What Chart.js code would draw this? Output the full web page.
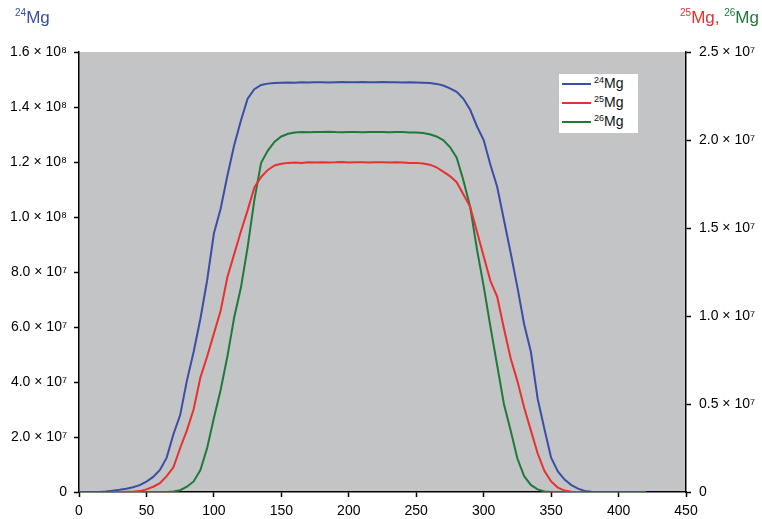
<!DOCTYPE html>
<html>
<head>
<meta charset="utf-8">
<script src="https://cdn.jsdelivr.net/npm/chart.js@4/dist/chart.umd.min.js"></script>
<style>
  body { margin: 0; background: #fff; }
  #wrap { position: relative; width: 762px; height: 519px; font-family: "Liberation Sans", Arial, sans-serif; }
  .title { position: absolute; font-size: 17px; white-space: nowrap; }
  .title sup { font-size: 10px; vertical-align: 7px; }
  #legend { position: absolute; left: 559px; top: 74px; width: 79px; height: 59px; background: #fff; }
  .row { position: absolute; left: 3px; height: 16px; font-size: 14px; color: #111; }
  .row span.ln { position: absolute; left: 0; top: 7px; width: 29px; height: 2px; }
  .row span.tx { position: absolute; left: 32px; top: -1px; white-space: nowrap; }
  .row sup { font-size: 9px; vertical-align: 5px; }
</style>
</head>
<body>
<div id="wrap">
  <canvas id="chart" width="762" height="519"></canvas>
  <div class="title" style="left:15px;top:7px;color:#3b4ea6"><sup>24</sup>Mg</div>
  <div class="title" style="left:680px;top:7px"><span style="color:#e8302f"><sup>25</sup>Mg,</span> <span style="color:#1f7a3a"><sup>26</sup>Mg</span></div>
  <div id="legend">
    <div class="row" style="top:2px"><span class="ln" style="background:#3b4ea6"></span><span class="tx"><sup>24</sup>Mg</span></div>
    <div class="row" style="top:21px"><span class="ln" style="background:#e8302f"></span><span class="tx"><sup>25</sup>Mg</span></div>
    <div class="row" style="top:40px"><span class="ln" style="background:#1f7a3a"></span><span class="tx"><sup>26</sup>Mg</span></div>
  </div>
</div>
<script>
// time / channel axis
const xs = [0,5,10,15,20,25,30,35,40,45,50,55,60,65,70,75,80,85,90,95,
  100,105,110,115,120,125,130,135,140,145,150,155,160,165,170,175,180,185,190,195,
  200,205,210,215,220,225,230,235,240,245,250,255,260,265,270,275,280,285,290,295,
  300,305,310,315,320,325,330,335,340,345,350,355,360,365,370,375,380,385,390,395,
  400,405,410,415,420]

// 24Mg, in units of 1e7 (left axis)
const mg24 = [0,0,0,0,0.02,0.05,0.08,0.12,0.17,0.25,0.38,0.55,0.8,1.25,2.1,2.8,4.05,5.1,6.3,7.7,
  9.4,10.3,11.5,12.6,13.5,14.3,14.65,14.8,14.85,14.87,14.88,14.89,14.88,14.9,14.89,14.9,14.9,14.89,14.9,14.91,
  14.9,14.9,14.91,14.9,14.9,14.91,14.9,14.9,14.89,14.9,14.89,14.88,14.87,14.84,14.78,14.68,14.55,14.3,13.9,13.3,
  12.8,11.9,11.1,9.9,8.7,7.45,6.1,5.1,3.4,2.3,1.25,0.75,0.45,0.25,0.12,0.04,0.01,0,0,0,
  0,0,0,0,0]

// 25Mg, in units of 1e6 (right axis)
const mg25 = [0,0,0,0,0,0,0,0.01,0.02,0.05,0.15,0.3,0.5,0.9,1.4,2.5,3.5,4.7,6.5,7.7,
  9.0,10.3,12.2,13.5,14.8,16.0,17.3,17.9,18.3,18.55,18.65,18.7,18.72,18.7,18.73,18.72,18.74,18.72,18.73,18.75,
  18.72,18.74,18.73,18.72,18.74,18.73,18.72,18.73,18.72,18.7,18.7,18.66,18.6,18.45,18.2,17.95,17.6,16.9,16.2,14.8,
  13.4,12.0,11.1,9.3,7.6,6.3,4.8,3.5,2.2,1.2,0.6,0.25,0.08,0.02,0,0,0,0,0,0,
  0,0,0,0,0]

// 26Mg, in units of 1e6 (right axis)
const mg26 = [0,0,0,0,0,0,0,0,0,0,0,0,0,0,0.03,0.1,0.3,0.6,1.25,2.5,
  4.2,5.8,7.7,9.9,11.6,13.9,16.6,18.7,19.4,19.9,20.2,20.35,20.42,20.45,20.44,20.46,20.45,20.47,20.45,20.44,
  20.46,20.45,20.44,20.46,20.45,20.45,20.44,20.46,20.45,20.43,20.42,20.4,20.33,20.2,20.0,19.6,19.0,17.7,16.2,13.8,
  11.7,9.4,7.2,5.0,3.5,1.9,0.9,0.4,0.15,0.03,0,0,0,0,0,0,0,0,0,0,
  0,0,0,0,0]

const leftTickLabels = ['0','2.0 × 10⁷','4.0 × 10⁷','6.0 × 10⁷','8.0 × 10⁷','1.0 × 10⁸','1.2 × 10⁸','1.4 × 10⁸','1.6 × 10⁸']
const rightTickLabels = ['0','0.5 × 10⁷','1.0 × 10⁷','1.5 × 10⁷','2.0 × 10⁷','2.5 × 10⁷']
const xTickLabels = ['0','50','100','150','200','250','300','350','400','450']

function toPoints(vals) {
  return vals.map((v, i) => ({x: xs[i], y: v}))
}

const plotBackground = {
  id: 'plotBackground',
  beforeDraw(chart) {
    const a = chart.chartArea
    const ctx = chart.ctx
    ctx.save()
    ctx.fillStyle = '#c3c4c6'
    ctx.fillRect(a.left, a.top, a.right - a.left, a.bottom - a.top)
    ctx.restore()
  }
}

const tickFont = {family: '"Liberation Sans", Arial, sans-serif', size: 14}
const axisGrid = {display: true, drawOnChartArea: false, drawTicks: true, tickLength: 5, tickWidth: 1.5, tickColor: '#000'}
const axisBorder = {display: true, color: '#000', width: 1.5}

new Chart(document.getElementById('chart'), {
  type: 'line',
  data: {
    datasets: [
      {label: '24Mg', data: toPoints(mg24), yAxisID: 'y', borderColor: '#3b4ea6', borderWidth: 2, pointRadius: 0, tension: 0},
      {label: '25Mg', data: toPoints(mg25), yAxisID: 'y2', borderColor: '#e8302f', borderWidth: 2, pointRadius: 0, tension: 0},
      {label: '26Mg', data: toPoints(mg26), yAxisID: 'y2', borderColor: '#1f7a3a', borderWidth: 2, pointRadius: 0, tension: 0}
    ]
  },
  options: {
    responsive: false,
    animation: false,
    layout: {padding: {top: 52, left: 0, right: 0, bottom: 0}},
    plugins: {legend: {display: false}, tooltip: {enabled: false}},
    scales: {
      x: {
        type: 'linear', min: 0, max: 450,
        grid: axisGrid, border: axisBorder,
        ticks: {stepSize: 50, font: tickFont, color: '#000', padding: 6, maxRotation: 0,
          callback: (v, i) => xTickLabels[i]},
        afterFit: s => { s.height = 27 }
      },
      y: {
        position: 'left', min: 0, max: 16,
        grid: axisGrid, border: axisBorder,
        ticks: {stepSize: 2, font: tickFont, color: '#000', padding: 7,
          callback: (v, i) => leftTickLabels[i]},
        afterFit: s => { s.width = 79 }
      },
      y2: {
        position: 'right', min: 0, max: 25,
        grid: axisGrid, border: axisBorder,
        ticks: {stepSize: 5, font: tickFont, color: '#000', padding: 8,
          callback: (v, i) => rightTickLabels[i]},
        afterFit: s => { s.width = 76 }
      }
    }
  },
  plugins: [plotBackground]
})
</script>
</body>
</html>
